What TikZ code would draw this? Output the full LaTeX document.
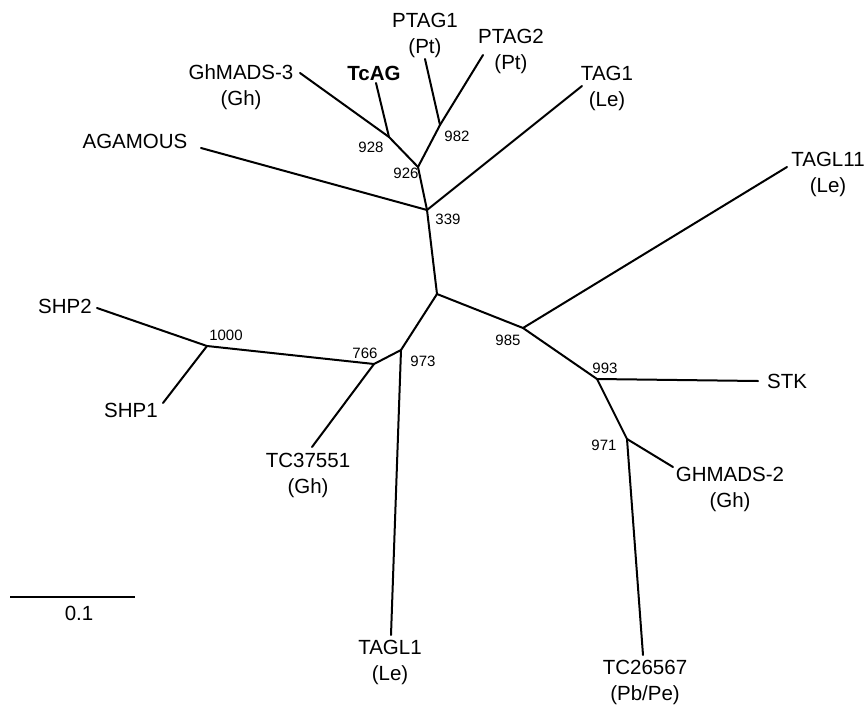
\documentclass[tikz,border=0pt]{standalone}
\usepackage{fontspec}
\setmainfont{Liberation Sans}
\begin{document}
\begin{tikzpicture}[x=1pt,y=-1pt,
  branch/.style={line width=2pt,line cap=round,line join=round},
  leaf/.style={font=\fontsize{20.5}{26}\selectfont,align=center,inner sep=0pt},
  leafone/.style={font=\fontsize{20.5}{26}\selectfont,inner sep=0pt,anchor=base},
  boot/.style={font=\fontsize{15}{18}\selectfont,inner sep=0pt,anchor=base}]
\useasboundingbox (0,0) rectangle (867,704);
% internal nodes
\coordinate (C) at (437,294);
\coordinate (n339) at (427,210);
\coordinate (n926) at (418,167);
\coordinate (n928) at (389,137);
\coordinate (n982) at (440,125);
\coordinate (n985) at (523,328);
\coordinate (n993) at (597,379);
\coordinate (n971) at (627,439);
\coordinate (n973) at (401,350);
\coordinate (n766) at (374,364);
\coordinate (n1000) at (207,346);
% leaf ends
\coordinate (eGh3) at (300,73);
\coordinate (eTcAG) at (376,83);
\coordinate (ePT1) at (425,59);
\coordinate (ePT2) at (483,55);
\coordinate (eTAG1) at (582,86);
\coordinate (eAG) at (201,148);
\coordinate (eTAGL11) at (787,167);
\coordinate (eSTK) at (758,381);
\coordinate (eGH2) at (673,467);
\coordinate (eTC26) at (643,655);
\coordinate (eTAGL1) at (391,635);
\coordinate (eTC37) at (312,447);
\coordinate (eSHP1) at (163,403);
\coordinate (eSHP2) at (97,308);
\coordinate (sb1) at (10,597);
\coordinate (sb2) at (135,597);
% branches
\draw[branch] (C) -- (n339);
\draw[branch] (n339) -- (n926);
\draw[branch] (n926) -- (n928);
\draw[branch] (n928) -- (eGh3);
\draw[branch] (n928) -- (eTcAG);
\draw[branch] (n926) -- (n982);
\draw[branch] (n982) -- (ePT1);
\draw[branch] (n982) -- (ePT2);
\draw[branch] (n339) -- (eTAG1);
\draw[branch] (n339) -- (eAG);
\draw[branch] (C) -- (n985);
\draw[branch] (n985) -- (eTAGL11);
\draw[branch] (n985) -- (n993);
\draw[branch] (n993) -- (eSTK);
\draw[branch] (n993) -- (n971);
\draw[branch] (n971) -- (eGH2);
\draw[branch] (n971) -- (eTC26);
\draw[branch] (C) -- (n973);
\draw[branch] (n973) -- (eTAGL1);
\draw[branch] (n973) -- (n766);
\draw[branch] (n766) -- (eTC37);
\draw[branch] (n766) -- (n1000);
\draw[branch] (n1000) -- (eSHP2);
\draw[branch] (n1000) -- (eSHP1);
\draw[branch,line cap=butt] (sb1) -- (sb2);
% leaf labels
\node[leaf] (lGh3) at (241,87.5) {GhMADS-3\\(Gh)};
\node[leafone] (lTcAG) at (374,80) {\bfseries TcAG};
\node[leaf] (lPT1) at (425,35.5) {PTAG1\\(Pt)};
\node[leaf] (lPT2) at (511,51.7) {PTAG2\\(Pt)};
\node[leaf] (lTAG1) at (607,88) {TAG1\\(Le)};
\node[leafone] (lAG) at (135,148) {AGAMOUS};
\node[leaf] (lTAGL11) at (828,174) {TAGL11\\(Le)};
\node[leafone] (lSTK) at (787,388) {STK};
\node[leaf] (lGH2) at (730,489) {GHMADS-2\\(Gh)};
\node[leaf] (lTC26) at (645,682) {TC26567\\(Pb/Pe)};
\node[leaf] (lTAGL1) at (390,662) {TAGL1\\(Le)};
\node[leaf] (lTC37) at (308,475) {TC37551\\(Gh)};
\node[leafone] (lSHP1) at (131,417) {SHP1};
\node[leafone] (lSHP2) at (65,313) {SHP2};
\node[leafone] (lsb) at (79,620) {0.1};
% bootstrap values
\node[boot] (b928) at (371,152.5) {928};
\node[boot] (b926) at (406,178.5) {926};
\node[boot] (b982) at (457,141) {982};
\node[boot] (b339) at (448,224.5) {339};
\node[boot] (b985) at (508,345.5) {985};
\node[boot] (b993) at (605,373.5) {993};
\node[boot] (b971) at (604,450.5) {971};
\node[boot] (b973) at (423,366.5) {973};
\node[boot] (b766) at (365,358.5) {766};
\node[boot] (b1000) at (226,340.5) {1000};
\end{tikzpicture}
\end{document}
